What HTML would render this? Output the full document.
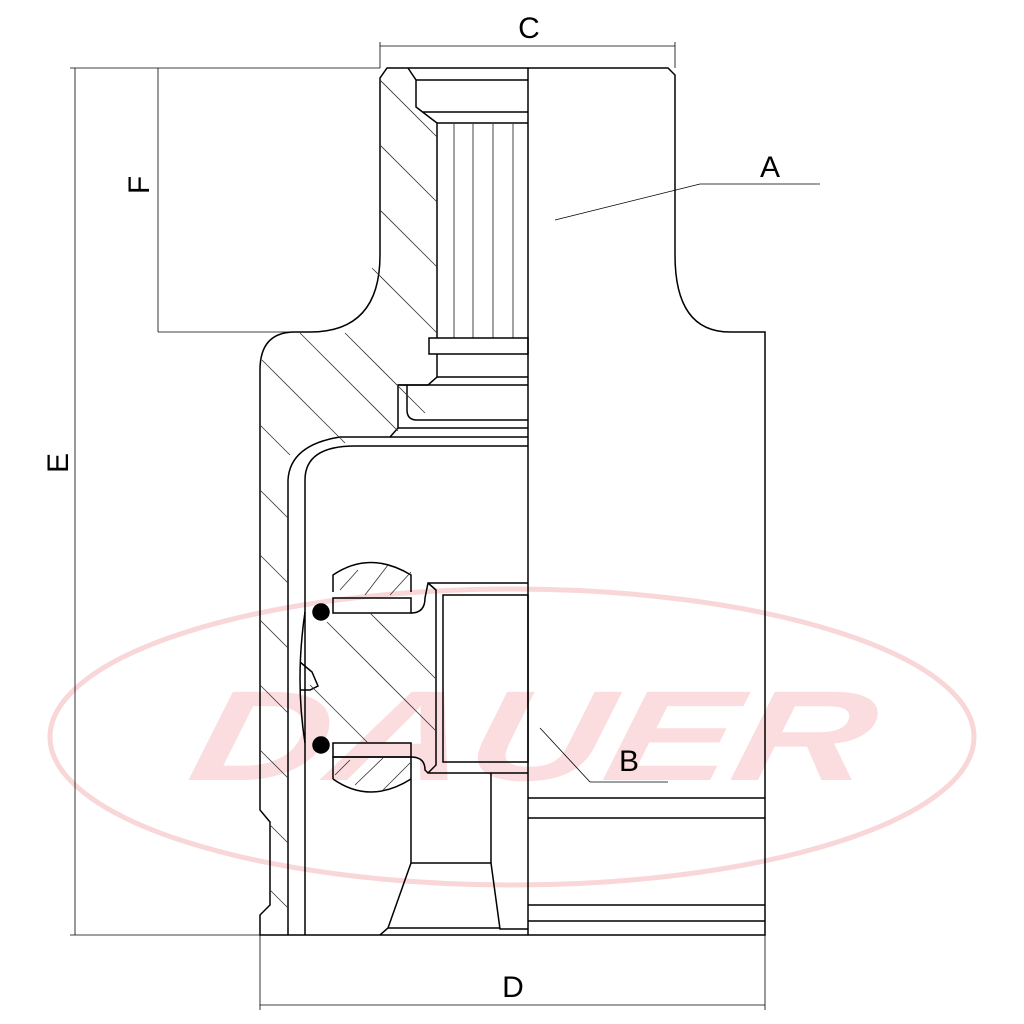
<!DOCTYPE html>
<html><head><meta charset="utf-8"><style>html,body{margin:0;padding:0;background:#fff}svg{display:block}</style></head>
<body>
<svg width="1024" height="1024" viewBox="0 0 1024 1024" xmlns="http://www.w3.org/2000/svg">
<!-- watermark -->
<ellipse cx="512" cy="737" rx="462" ry="148" fill="none" stroke="#f9d6d8" stroke-width="5"/>
<text x="185" y="780" textLength="680" lengthAdjust="spacingAndGlyphs" font-family="Liberation Sans, sans-serif" font-weight="bold" font-style="italic" font-size="128" fill="#fbdcdf" transform="translate(166,0) skewX(-12)">DAUER</text>

<g fill="none" stroke="#000" stroke-width="1.5">
<path d="M387,68 L668,68 L675,75 L675,255 Q675,332 730,332 L765,332 L765,935 L260,935 L260,915 L270,905 L270,822 L260,810 L260,370 Q260,332 295,332 L310,332 Q380,332 380,255 L380,78 Z"/>
<line x1="528" y1="68" x2="528" y2="935"/>
<path d="M408,68 L416,80 L416,107 L437,123 L437,338"/>
<line x1="416" y1="80" x2="528" y2="80"/>
<line x1="423" y1="112" x2="528" y2="112"/>
<line x1="437" y1="123" x2="528" y2="123"/>
<g stroke-width="1" stroke="#444"><line x1="454" y1="123" x2="454" y2="338"/><line x1="473" y1="123" x2="473" y2="338"/><line x1="493" y1="123" x2="493" y2="338"/><line x1="513" y1="123" x2="513" y2="338"/></g>
<rect x="429" y="338" width="99" height="16"/>
<path d="M437,354 L437,377 L428,385 L398,385 L398,428 L390,437 L340,437 Q290,445 288,480 L288,935"/>
<line x1="437" y1="377" x2="528" y2="377"/>
<path d="M407,385 L407,410 Q407,420 417,420 L528,420"/>
<line x1="398" y1="385" x2="528" y2="385"/>
<line x1="398" y1="428" x2="528" y2="428"/>
<line x1="390" y1="437" x2="528" y2="437"/>
<path d="M528,446 L355,446 Q305,446 305,480 L305,935"/>
<path d="M333,592 L333,575 Q370,550 411,575 L411,592"/>
<rect x="333" y="598" width="78" height="15"/>
<path d="M333,779 L333,757 L411,757 L411,779 Q370,805 333,779"/>
<rect x="333" y="743" width="78" height="14"/>
<circle cx="321" cy="612" r="8" fill="#000"/>
<circle cx="321" cy="745" r="8" fill="#000"/>
<path d="M305,612 Q295,680 305,743"/>
<path d="M300,662 L312,672 L318,686 L310,690 L300,690"/>
<path d="M411,613 Q425,613 425,598 L428,583 L528,583"/>
<path d="M411,757 Q425,757 425,770 L428,773 L528,773"/>
<path d="M428,583 L436,590 L436,765 L428,773"/>
<rect x="443" y="595" width="85" height="167"/>
<line x1="491" y1="773" x2="491" y2="863"/>
<line x1="411" y1="779" x2="411" y2="863"/>
<path d="M411,863 L491,863 L500,929 L528,929 M411,863 L388,928 L380,935 M388,928 L500,928"/>
<line x1="528" y1="798" x2="765" y2="798"/>
<line x1="528" y1="818" x2="765" y2="818"/>
<line x1="528" y1="905" x2="765" y2="905"/>
<line x1="528" y1="921" x2="765" y2="921"/>
</g>
<g stroke="#333" stroke-width="0.8">
<line x1="380" y1="80" x2="437" y2="137"/><line x1="380" y1="145" x2="437" y2="202"/><line x1="380" y1="210" x2="437" y2="267"/>
<line x1="372" y1="268" x2="437" y2="333"/><line x1="345" y1="333" x2="425" y2="413"/><line x1="300" y1="333" x2="398" y2="431"/>
<line x1="262" y1="360" x2="345" y2="443"/><line x1="260" y1="425" x2="290" y2="455"/><line x1="260" y1="490" x2="288" y2="518"/>
<line x1="260" y1="555" x2="288" y2="583"/><line x1="260" y1="620" x2="288" y2="648"/><line x1="260" y1="685" x2="288" y2="713"/>
<line x1="260" y1="750" x2="288" y2="778"/><line x1="270" y1="825" x2="288" y2="843"/><line x1="270" y1="890" x2="288" y2="908"/>
<line x1="327" y1="622" x2="436" y2="731"/><line x1="370" y1="613" x2="436" y2="679"/><line x1="310" y1="685" x2="368" y2="743"/>
<line x1="340" y1="590" x2="358" y2="570"/><line x1="365" y1="595" x2="388" y2="565"/><line x1="390" y1="595" x2="411" y2="572"/>
<line x1="335" y1="775" x2="350" y2="760"/><line x1="355" y1="785" x2="383" y2="758"/><line x1="383" y1="790" x2="411" y2="762"/>
</g>
<g stroke="#000" stroke-width="0.8" fill="none">
<line x1="380" y1="42" x2="380" y2="68"/><line x1="675" y1="42" x2="675" y2="68"/>
<line x1="380" y1="46" x2="675" y2="46"/>
<line x1="70" y1="68" x2="380" y2="68"/><line x1="70" y1="935" x2="260" y2="935"/>
<line x1="75" y1="68" x2="75" y2="935"/>
<line x1="158" y1="68" x2="158" y2="332"/><line x1="158" y1="332" x2="292" y2="332"/>
<line x1="260" y1="935" x2="260" y2="1010"/><line x1="765" y1="935" x2="765" y2="1010"/>
<line x1="260" y1="1005" x2="765" y2="1005"/>
<polyline points="555,220 700,184 820,184"/>
<polyline points="540,728 590,782 668,782"/>
</g>
<g font-family="Liberation Sans, sans-serif" font-size="30" fill="#000" text-anchor="middle">
<text x="529" y="38">C</text>
<text x="513" y="997">D</text>
<text x="770" y="177">A</text>
<text x="629" y="771">B</text>
<text transform="translate(68,463) rotate(-90)">E</text>
<text transform="translate(149,185) rotate(-90)">F</text>
</g>
</svg>
</body></html>
